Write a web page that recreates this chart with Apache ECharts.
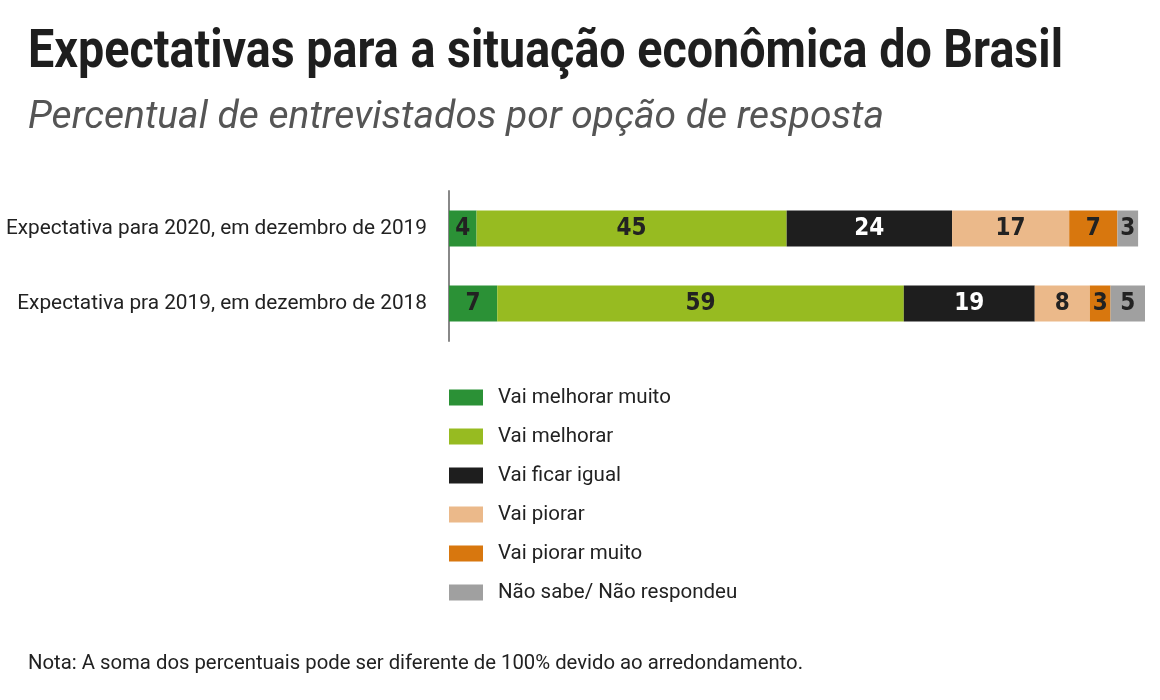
<!DOCTYPE html>
<html><head><meta charset="utf-8">
<script src="https://cdn.jsdelivr.net/npm/echarts@6/dist/echarts.min.js"></script>
<style>html,body{margin:0;padding:0;background:#fff}#c{width:1160px;height:700px}</style>
</head><body><div id="c"></div>
<script>
const titleText = 'Expectativas para a situação econômica do Brasil';
const subtitleText = 'Percentual de entrevistados por opção de resposta';
const noteText = 'Nota: A soma dos percentuais pode ser diferente de 100% devido ao arredondamento.';
const categories = ['Expectativa para 2020, em dezembro de 2019', 'Expectativa pra 2019, em dezembro de 2018'];
const seriesNames = ['Vai melhorar muito', 'Vai melhorar', 'Vai ficar igual', 'Vai piorar', 'Vai piorar muito', 'Não sabe/ Não respondeu'];
const melhorarMuito = [4, 7];
const melhorar = [45, 59];
const ficarIgual = [24, 19];
const piorar = [17, 8];
const piorarMuito = [7, 3];
const naoSabe = [3, 5];
const colors = ['#2b9136', '#97bb21', '#1e1e1e', '#ebb98a', '#d8770e', '#a0a0a0'];
const labelColors = ['#222', '#222', '#fff', '#222', '#222', '#222'];
const values = [melhorarMuito, melhorar, ficarIgual, piorar, piorarMuito, naoSabe];
const rowMax = Math.max(...categories.map((_, i) => values.reduce((s, v) => s + v[i], 0)));
const condensed = '"DejaVu Sans Condensed", "Roboto", sans-serif';

const ctx = document.createElement('canvas').getContext('2d');
function fitScale(text, font, target) { ctx.font = font; return target / ctx.measureText(text).width; }
const titleFont = 'bold 53px Roboto';
const subFont = 'italic 38px Roboto';
const noteFont = '20px Roboto';

const chart = echarts.init(document.getElementById('c'));
chart.setOption({
  animation: false,
  graphic: [
    {type: 'text', x: 28, y: 54, scaleX: fitScale(titleText, titleFont, 1035),
     style: {text: titleText, font: titleFont, fill: '#1e1e1e', verticalAlign: 'middle'}},
    {type: 'text', x: 28, y: 118, scaleX: fitScale(subtitleText, subFont, 856),
     style: {text: subtitleText, font: subFont, fill: '#555', verticalAlign: 'middle'}},
    {type: 'text', x: 28, y: 664, scaleX: fitScale(noteText, noteFont, 775),
     style: {text: noteText, font: noteFont, fill: '#222', verticalAlign: 'middle'}}
  ],
  legend: {
    orient: 'vertical', left: 449, top: 387, padding: 0, itemWidth: 34, itemHeight: 16, itemGap: 18,
    icon: 'rect', data: seriesNames,
    textStyle: {fontFamily: 'Roboto', fontSize: 20.5, color: '#222', padding: [0, 0, 0, 10]}
  },
  grid: {left: 449, right: 15, top: 191, height: 150},
  xAxis: {type: 'value', min: 0, max: rowMax, show: false},
  yAxis: {
    type: 'category', data: categories, inverse: true,
    axisLine: {show: true, lineStyle: {color: '#888', width: 2}},
    axisTick: {show: false},
    axisLabel: {fontFamily: 'Roboto', fontSize: 20.8, color: '#222', margin: 22}
  },
  series: seriesNames.map((name, k) => ({
    name, type: 'bar', stack: 'total', barWidth: 36,
    itemStyle: {color: colors[k]},
    label: {show: true, position: 'inside', formatter: '{c}',
      fontFamily: condensed, fontWeight: 'bold', fontSize: 24, color: labelColors[k]},
    data: values[k]
  }))
});
</script></body></html>
